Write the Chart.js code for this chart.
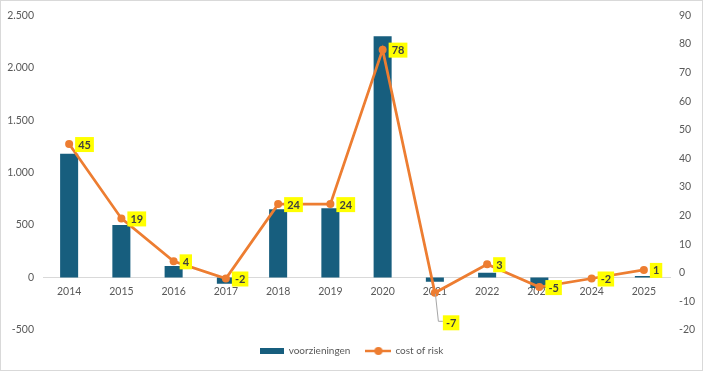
<!DOCTYPE html>
<html>
<head>
<meta charset="utf-8">
<script src="https://cdn.jsdelivr.net/npm/chart.js@4.4.1/dist/chart.umd.min.js"></script>
<style>
    html, body { margin: 0; padding: 0; background: #fff; }
    #wrap { width: 703px; height: 371px; position: relative; }
</style>
</head>
<body>
<div id="wrap"><canvas id="myChart" width="703" height="371"></canvas></div>
<script>
const jaren = ['2014', '2015', '2016', '2017', '2018', '2019', '2020', '2021', '2022', '2023', '2024', '2025'];
const voorzieningen = [1180, 500, 110, -60, 650, 660, 2300, -40, 45, -100, 0, 15];
const costOfRisk = [45, 19, 4, -2, 24, 24, 78, -7, 3, -5, -2, 1];
const linkerTicks = [-500, 0, 500, 1000, 1500, 2000, 2500];
const rechterTicks = [-20, -10, 0, 10, 20, 30, 40, 50, 60, 70, 80, 90];

const BLAUW = '#175e7e';
const ORANJE = '#ed7d31';
const FONT = 'Lato, "Open Sans", sans-serif';
const FS = 10.5;

function swatchBar() {
    const c = document.createElement('canvas');
    c.width = 24; c.height = 6;
    const g = c.getContext('2d');
    g.fillStyle = BLAUW;
    g.fillRect(0, 0, 24, 6);
    return c;
}

function swatchLijn() {
    const c = document.createElement('canvas');
    c.width = 26; c.height = 10;
    const g = c.getContext('2d');
    g.strokeStyle = ORANJE;
    g.lineWidth = 2.5;
    g.beginPath(); g.moveTo(0, 5); g.lineTo(26, 5); g.stroke();
    g.fillStyle = ORANJE;
    g.beginPath(); g.arc(13, 5, 4, 0, Math.PI * 2); g.fill();
    return c;
}

// witte achtergrond + kader
const kader = {
    id: 'kader',
    beforeDraw(chart) {
        const ctx = chart.ctx;
        ctx.save();
        ctx.fillStyle = '#fff';
        ctx.fillRect(0, 0, chart.width, chart.height);
        ctx.strokeStyle = '#d9d9d9';
        ctx.lineWidth = 1;
        ctx.strokeRect(0.5, 0.5, chart.width - 1, chart.height - 1);
        ctx.restore();
    }
};

// gele labels bij de lijn
const labels = {
    id: 'gele',
    afterDatasetsDraw(chart) {
        const ctx = chart.ctx;
        const meta = chart.getDatasetMeta(1);
        ctx.save();
        ctx.font = 'bold 11px ' + FONT;
        ctx.textBaseline = 'middle';
        meta.data.forEach((pt, i) => {
            const tekst = String(costOfRisk[i]);
            const w = ctx.measureText(tekst).width + 6;
            const h = 15;
            let x = pt.x + 6;
            let y = pt.y + 0.5;
            if (i === 7) {
                // label met hulplijn
                const lx = pt.x + 3, ly = pt.y + 28;
                ctx.strokeStyle = '#a6a6a6';
                ctx.lineWidth = 1;
                ctx.beginPath();
                ctx.moveTo(pt.x + 0.5, pt.y + 1);
                ctx.lineTo(lx + 0.5, ly + 0.5);
                ctx.lineTo(lx + 5, ly + 0.5);
                ctx.stroke();
                x = lx + 5;
                y = ly + 2;
            }
            ctx.fillStyle = '#ffff00';
            ctx.fillRect(x, y - h / 2, w, h);
            ctx.fillStyle = '#404040';
            ctx.fillText(tekst, x + 3, y + 0.5);
        });
        ctx.restore();
    }
};

const ctx = document.getElementById('myChart').getContext('2d');
new Chart(ctx, {
    data: {
        labels: jaren,
        datasets: [
            {
                type: 'bar',
                label: 'voorzieningen',
                data: voorzieningen,
                backgroundColor: BLAUW,
                borderWidth: 0,
                yAxisID: 'y',
                order: 2,
                barPercentage: 0.69,
                categoryPercentage: 0.5
            },
            {
                type: 'line',
                label: 'cost of risk',
                data: costOfRisk,
                borderColor: ORANJE,
                backgroundColor: ORANJE,
                borderWidth: 2.75,
                pointRadius: 4,
                pointBorderWidth: 0,
                tension: 0,
                yAxisID: 'y1',
                order: 1
            }
        ]
    },
    options: {
        responsive: false,
        animation: false,
        layout: { padding: { top: -4, left: 0, right: 0, bottom: 5 } },
        plugins: {
            tooltip: { enabled: false },
            legend: {
                position: 'bottom',
                labels: {
                    color: '#595959',
                    font: { family: FONT, size: 10 },
                    usePointStyle: true,
                    pointStyleWidth: 24,
                    boxHeight: 10,
                    padding: 16,
                    sort: (a, b) => a.datasetIndex - b.datasetIndex,
                    generateLabels(chart) {
                        return chart.data.datasets.map((ds, i) => ({
                            text: ds.label,
                            datasetIndex: i,
                            pointStyle: i === 0 ? swatchBar() : swatchLijn(),
                            fillStyle: ds.backgroundColor,
                            strokeStyle: ds.backgroundColor,
                            lineWidth: 0,
                            fontColor: '#595959'
                        }));
                    }
                }
            }
        },
        scales: {
            x: {
                position: { y: 0 },
                grid: { display: false, drawTicks: false },
                border: { display: true, color: '#d9d9d9', width: 1 },
                ticks: { color: '#595959', font: { family: FONT, size: FS }, padding: 8 }
            },
            y: {
                position: 'left',
                min: -500,
                max: 2500,
                afterFit(s) { s.width = 43; },
                afterBuildTicks(s) { s.ticks = linkerTicks.map(v => ({ value: v })); },
                grid: { display: false, drawTicks: false },
                border: { display: false },
                ticks: {
                    color: '#595959',
                    font: { family: FONT, size: FS },
                    padding: 9,
                    callback: v => v.toLocaleString('nl-NL')
                }
            },
            y1: {
                position: 'right',
                min: -20,
                max: 90,
                afterFit(s) { s.width = 33; },
                afterBuildTicks(s) { s.ticks = rechterTicks.map(v => ({ value: v })); },
                grid: { display: false, drawTicks: false },
                border: { display: false },
                ticks: {
                    color: '#595959',
                    font: { family: FONT, size: FS },
                    padding: 9
                }
            }
        }
    },
    plugins: [kader, labels]
});
</script>
</body>
</html>
